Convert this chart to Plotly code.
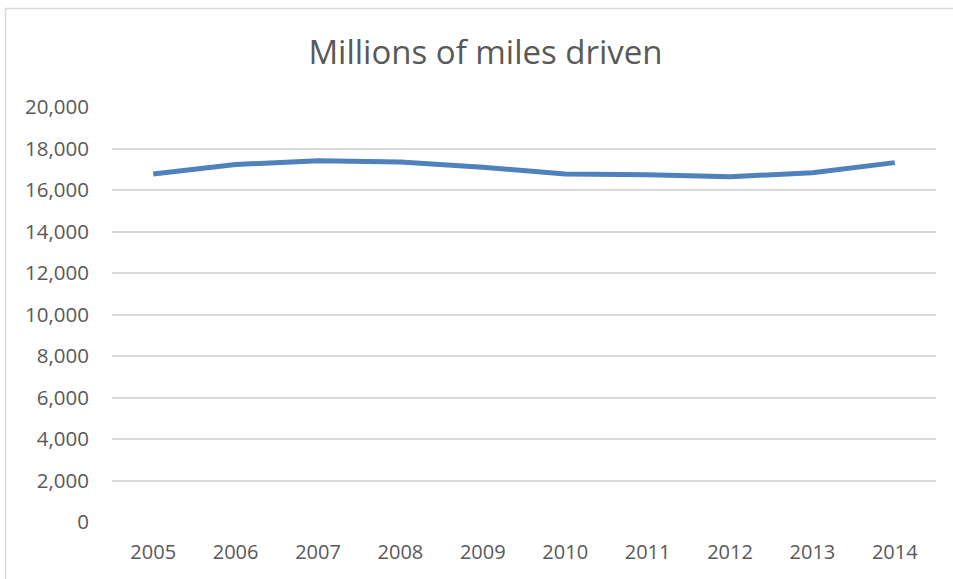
import plotly.graph_objects as go

years = ["2005", "2006", "2007", "2008", "2009", "2010", "2011", "2012", "2013", "2014"]
miles = [16770, 17230, 17410, 17350, 17100, 16770, 16740, 16640, 16830, 17320]
y_ticks = [0, 2000, 4000, 6000, 8000, 10000, 12000, 14000, 16000, 18000, 20000]

W, H = 953, 579
L, R, T, B = 112, 17, 107, 57
pw, ph = W - L - R, H - T - B

fig = go.Figure()
fig.add_trace(go.Scatter(x=years, y=miles, mode="lines",
                         line=dict(color="#4F81BD", width=5)))

font = "Open Sans, Calibri, Carlito, sans-serif"
fig.update_layout(
    width=W, height=H,
    margin=dict(l=L, r=R, t=T, b=B),
    paper_bgcolor="white", plot_bgcolor="white",
    showlegend=False,
    title=dict(text="Millions of miles driven", x=485.5 / W, xanchor="center",
               y=1 - 52 / H, yanchor="middle",
               font=dict(family=font, size=33, color="#595959")),
    font=dict(family=font, color="#595959", size=20),
    xaxis=dict(type="category", range=[-0.5, 9.5], showgrid=False,
               zeroline=False, showline=False,
               ticks="", ticklabelstandoff=16, tickfont=dict(size=20)),
    yaxis=dict(range=[0, 20000], tickvals=y_ticks, tickformat=",d",
               showgrid=True, gridcolor="#D9D9D9", gridwidth=1.5,
               zeroline=False, showline=False, ticks="",
               ticklabelstandoff=22, tickfont=dict(size=20.5)),
    shapes=[dict(type="rect", xref="paper", yref="paper",
                 x0=(5.5 - L) / pw, x1=(W + 20 - L) / pw,
                 y0=-(B + 20) / ph, y1=1 + (T - 8.5) / ph,
                 line=dict(color="#D9D9D9", width=1.5), layer="below")],
)

fig.write_html("out.html")
